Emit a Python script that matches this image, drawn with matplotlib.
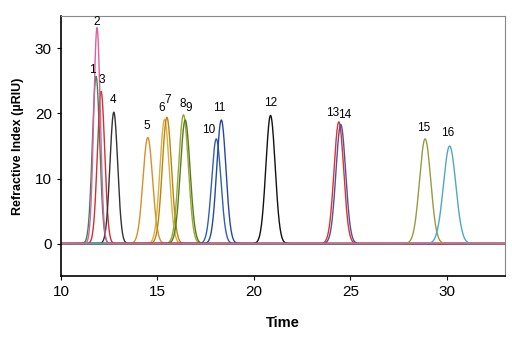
import numpy as np
import matplotlib
matplotlib.use("Agg")
import matplotlib.pyplot as plt

plt.rcParams['font.family'] = ['Liberation Sans', 'DejaVu Sans']

# Peak parameters
peak_ids = [str(i) for i in range(1, 17)]
peak_time = [11.82, 11.87, 12.08, 12.74, 14.50, 15.37, 15.49, 16.35,
             16.44, 18.05, 18.31, 20.86, 24.40, 24.50, 28.87, 30.14]
peak_height = [25.7, 33.2, 23.4, 20.2, 16.3, 19.1, 19.4, 19.8,
               19.0, 16.1, 19.0, 19.7, 18.7, 18.3, 16.1, 15.0]
peak_sigma = [0.19, 0.17, 0.19, 0.20, 0.25, 0.24, 0.24, 0.25,
              0.25, 0.24, 0.24, 0.24, 0.25, 0.25, 0.29, 0.32]
peak_color = ['#2e8b57', '#e0609a', '#cc3333', '#333333', '#d4902a', '#d8b040',
              '#b8860b', '#9aaa30', '#5a7a20', '#3060b0', '#2848a0', '#111111',
              '#e03030', '#5050a0', '#9a9a40', '#50a8c0']
label_x = [11.64, 11.87, 12.13, 12.70, 14.45, 15.23, 15.52, 16.30,
           16.60, 17.65, 18.20, 20.86, 24.06, 24.72, 28.82, 30.05]
label_y = [26.7, 34.0, 25.1, 22.1, 18.1, 20.8, 22.0, 21.5,
           20.8, 17.5, 20.9, 21.6, 20.1, 19.7, 17.8, 17.0]

fig = plt.figure(figsize=(5.12, 3.38), dpi=100)
ax = fig.add_axes([0.119, 0.183, 0.867, 0.770])

t = np.linspace(10, 33, 2000)
order = list(range(16))
order.remove(1)
order.append(1)  # pink trace drawn last
for i in order:
    y = peak_height[i] * np.exp(-0.5 * ((t - peak_time[i]) / peak_sigma[i]) ** 2)
    ax.plot(t, y, color=peak_color[i], lw=1.0)

for lab, lx, ly in zip(peak_ids, label_x, label_y):
    ax.text(lx, ly, lab, ha='center', va='center', fontsize=8.5)

ax.set_xlim(10, 33)
ax.set_ylim(-5, 35)
ax.set_xticks([10, 15, 20, 25, 30])
ax.set_yticks([0, 10, 20, 30])
ax.tick_params(labelsize=11, length=3, width=0.8)
ax.set_xlabel('Time', fontsize=10.5, fontweight='bold', labelpad=12)
ax.set_ylabel('Refractive Index (µRIU)', fontsize=9, fontweight='bold', labelpad=8)

for s in ['left', 'bottom']:
    ax.spines[s].set_linewidth(1.2)
for s in ['top', 'right']:
    ax.spines[s].set_color('#888888')
    ax.spines[s].set_linewidth(0.8)

fig.savefig('out.png', dpi=100)
